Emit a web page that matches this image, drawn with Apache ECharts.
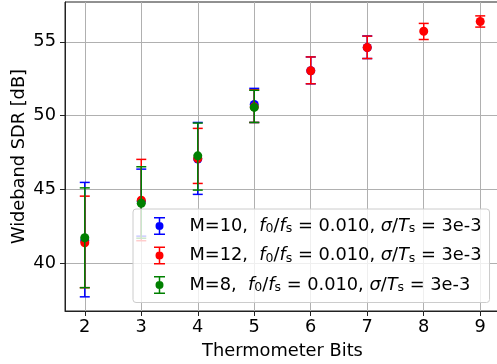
<!DOCTYPE html>
<html>
<head>
<meta charset="utf-8">
<script src="https://cdn.jsdelivr.net/npm/echarts@6/dist/echarts.min.js"></script>
<style>
  html, body { margin: 0; padding: 0; background: #fff; }
  #chart { width: 497px; height: 364px; }
</style>
</head>
<body>
<div id="chart"></div>
<script>
// thermometer bits per curve, SDR mean and the error bar ends (dB)
const bitsM10 = [2, 3, 4, 5, 6, 7];
const sdrM10 = [41.55, 44.2, 47.06, 50.76, 53.04, 54.62];
const lowM10 = [37.73, 41.84, 44.67, 49.54, 52.16, 53.87];
const highM10 = [45.48, 46.38, 49.54, 51.85, 53.98, 55.4];

const bitsM12 = [2, 3, 4, 5, 6, 7, 8, 9];
const sdrM12 = [41.39, 44.28, 47.1, 50.6, 53.04, 54.62, 55.72, 56.38];
const lowM12 = [38.35, 41.53, 45.41, 49.54, 52.16, 53.87, 55.16, 56.0];
const highM12 = [44.55, 47.04, 49.14, 51.75, 53.98, 55.39, 56.25, 56.76];

const bitsM8 = [2, 3, 4, 5];
const sdrM8 = [41.73, 44.06, 47.28, 50.56];
const lowM8 = [38.35, 41.7, 44.96, 49.54];
const highM8 = [45.11, 46.54, 49.5, 51.72];

const xTicks = [2, 3, 4, 5, 6, 7, 8, 9];
const yTicks = [40, 45, 50, 55];

const FONT = "DejaVu Sans";
const ERR_ICON =
  "path://M0 0H11V1.5H0Z M4.75 0H6.25V18H4.75Z M0 16.5H11V18H0Z " +
  "M9.5 9A4 4 0 1 1 1.5 9A4 4 0 1 1 9.5 9Z";

function rows(bits, mean, lo, hi) {
  return bits.map((b, i) => [b, mean[i], lo[i], hi[i]]);
}

function renderErr(color) {
  return (params, api) => {
    const x = api.value(0);
    const c = api.coord([x, api.value(1)]);
    const lo = api.coord([x, api.value(2)]);
    const hi = api.coord([x, api.value(3)]);
    const style = { stroke: color, lineWidth: 1.5 };
    return {
      type: "group",
      children: [
        { type: "line", shape: { x1: c[0], y1: hi[1], x2: c[0], y2: lo[1] }, style },
        { type: "line", shape: { x1: c[0] - 5, y1: hi[1], x2: c[0] + 5, y2: hi[1] }, style },
        { type: "line", shape: { x1: c[0] - 5, y1: lo[1], x2: c[0] + 5, y2: lo[1] }, style },
        { type: "circle", shape: { cx: c[0], cy: c[1], r: 4.5 }, style: { fill: color } },
      ],
    };
  };
}

function errSeries(name, color, data) {
  return {
    name,
    type: "custom",
    itemStyle: { color },
    encode: { x: 0, y: [1, 2, 3] },
    renderItem: renderErr(color),
    data,
  };
}

const chart = echarts.init(document.getElementById("chart"));
chart.setOption({
  animation: false,
  textStyle: { fontFamily: FONT },
  grid: {
    left: 65, right: -3, top: 2, bottom: 53,
    outerBoundsMode: "none",
    show: true, borderColor: "#222", borderWidth: 1, backgroundColor: "#fff",
  },
  legend: {
    orient: "vertical",
    left: 133,
    top: 209,
    padding: [8, 8, 8, 21],
    itemGap: 11,
    itemWidth: 34,
    itemHeight: 18,
    backgroundColor: "rgba(255,255,255,0.8)",
    borderColor: "#cccccc",
    borderWidth: 1,
    borderRadius: 3,
    data: ["M=10", "M=12", "M=8"].map((n) => ({ name: n, icon: ERR_ICON })),
    formatter: (name) =>
      `${name},  {i|f}{sub|0}/{i|f}{sub|s} = 0.010, {i|σ}/{i|T}{sub|s} = 3e-3`,
    textStyle: {
      fontFamily: FONT,
      fontSize: 17.8,
      color: "#000",
      padding: [0, 0, 0, 8],
      rich: {
        i: { fontFamily: FONT, fontStyle: "italic", fontSize: 17.8, color: "#000" },
        sub: { fontFamily: FONT, fontSize: 12.5, color: "#000", verticalAlign: "bottom", padding: [6, 0, 0, 0] },
      },
    },
  },
  xAxis: {
    type: "value",
    min: 1.65,
    max: 9.35,
    name: "Thermometer Bits",
    nameLocation: "middle",
    nameGap: 31,
    nameTextStyle: { fontFamily: FONT, fontSize: 17.8, color: "#000" },
    axisLine: { onZero: false, lineStyle: { color: "#222", width: 1 } },
    axisTick: { show: true, length: 5, lineStyle: { color: "#222" }, customValues: xTicks },
    axisLabel: { fontFamily: FONT, fontSize: 17.8, color: "#000", margin: 7, customValues: xTicks },
    splitLine: { show: true, lineStyle: { color: "#b0b0b0", width: 1 } },
  },
  yAxis: {
    type: "value",
    min: 36.77,
    max: 57.7,
    name: "Wideband SDR [dB]",
    nameLocation: "middle",
    nameGap: 37,
    nameMoveOverlap: false,
    nameTextStyle: { fontFamily: FONT, fontSize: 17.8, color: "#000" },
    axisLine: { show: true, lineStyle: { color: "#222", width: 1 } },
    axisTick: { show: true, length: 5, lineStyle: { color: "#222" }, customValues: yTicks },
    axisLabel: { fontFamily: FONT, fontSize: 17.8, color: "#000", margin: 9, customValues: yTicks },
    splitLine: { show: true, lineStyle: { color: "#b0b0b0", width: 1 } },
  },
  series: [
    errSeries("M=10", "#0000ff", rows(bitsM10, sdrM10, lowM10, highM10)),
    errSeries("M=12", "#ff0000", rows(bitsM12, sdrM12, lowM12, highM12)),
    errSeries("M=8", "#008000", rows(bitsM8, sdrM8, lowM8, highM8)),
  ],
});
</script>
</body>
</html>
